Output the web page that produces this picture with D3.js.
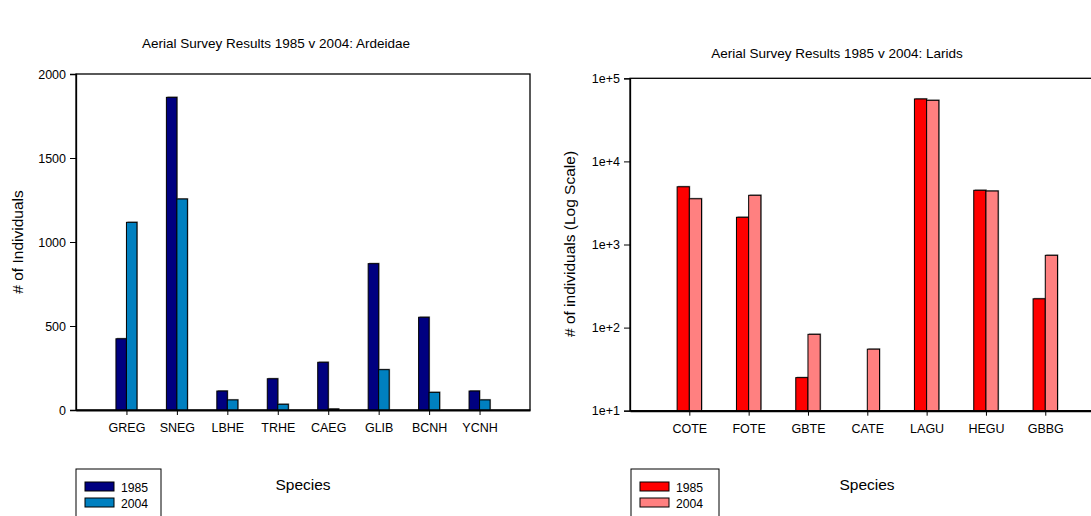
<!DOCTYPE html>
<html lang="en">
<head>
<meta charset="utf-8">
<title>Aerial Survey Results 1985 v 2004</title>
<script src="https://cdn.jsdelivr.net/npm/d3@7"></script>
<style>
  body { margin: 0; background: #fff; }
  svg { display: block; font-family: "Liberation Sans", Arial, sans-serif; }
</style>
</head>
<body>
<div id="chart"></div>
<script>

// Ardeidae data
var herons = ["GREG", "SNEG", "LBHE", "TRHE", "CAEG", "GLIB", "BCNH", "YCNH"];
var herons1985 = [424, 1861, 113, 186, 284, 871, 552, 113];
var herons2004 = [1117, 1256, 60, 34, 6, 240, 105, 60];
var heronTicks = [0, 500, 1000, 1500, 2000];

// Larid data (log scale), 0 = not present
var larids = ["COTE", "FOTE", "GBTE", "CATE", "LAGU", "HEGU", "GBBG"];
var larids1985 = [4950, 2125, 25, 0, 56400, 4490, 222];
var larids2004 = [3550, 3908, 83, 55, 54300, 4400, 741];
var laridTicks = [10, 100, 1000, 10000, 100000];

var years = ["1985", "2004"];

var W = 1091, H = 516;
var FONT = "Liberation Sans, Arial, sans-serif";

var svg = d3.select("#chart").append("svg")
    .attr("width", W)
    .attr("height", H)
    .style("overflow", "hidden");

function drawPanel(opt) {
  var g = svg.append("g");
  var x = d3.scaleLinear().domain([0, opt.cats.length + 1]).range([opt.left, opt.right]);
  var y = opt.y;
  var base = y.range()[0];

  // frame
  g.append("rect")
    .attr("x", opt.left).attr("y", y.range()[1])
    .attr("width", opt.right - opt.left).attr("height", base - y.range()[1])
    .attr("fill", "none").attr("stroke", "#000").attr("stroke-width", 1.3);

  var bars = [];
  opt.cats.forEach(function(c, i) {
    bars.push({cat: c, i: i, s: 0, v: opt.s1[i]});
    bars.push({cat: c, i: i, s: 1, v: opt.s2[i]});
  });
  bars = bars.filter(function(d) { return d.v > 0; });

  // faint shadow
  g.selectAll("rect.shadow").data(bars).enter().append("rect")
    .attr("class", "shadow")
    .attr("x", function(d) { return x(d.i + 1) + (d.s - 1) * opt.bw + 1; })
    .attr("y", function(d) { return y(d.v) - 1; })
    .attr("width", opt.bw)
    .attr("height", function(d) { return base - y(d.v); })
    .attr("fill", "#999");

  g.selectAll("rect.bar").data(bars).enter().append("rect")
    .attr("class", "bar")
    .attr("x", function(d) { return x(d.i + 1) + (d.s - 1) * opt.bw; })
    .attr("y", function(d) { return y(d.v); })
    .attr("width", opt.bw)
    .attr("height", function(d) { return base - y(d.v); })
    .attr("fill", function(d) { return opt.colors[d.s]; })
    .attr("stroke", "#000").attr("stroke-width", 1);

  // y axis
  var ya = d3.axisLeft(y).tickValues(opt.ticks).tickSize(6).tickPadding(4).tickFormat(opt.fmt);
  var yg = g.append("g").attr("transform", "translate(" + opt.left + ",0)").call(ya);
  yg.select(".domain").attr("stroke-width", 1.3);
  yg.selectAll("text").attr("font-size", 12.5).attr("fill", "#000").attr("font-family", FONT);

  // x axis
  var xa = d3.axisBottom(x).tickValues(d3.range(1, opt.cats.length + 1))
    .tickFormat(function(d) { return opt.cats[d - 1]; }).tickSize(5).tickSizeOuter(0).tickPadding(8);
  var xg = g.append("g").attr("transform", "translate(0," + base + ")").call(xa);
  xg.select(".domain").attr("stroke-width", 2);
  xg.selectAll("text").attr("font-size", 12.5).attr("fill", "#000").attr("font-family", FONT);

  // titles
  g.append("text").attr("x", opt.titleX).attr("y", opt.titleY)
    .attr("text-anchor", "middle").attr("font-size", 13.5).text(opt.title);
  g.append("text").attr("x", opt.xlabX).attr("y", 490)
    .attr("text-anchor", "middle").attr("font-size", 15.5).text("Species");
  g.append("text")
    .attr("transform", "translate(" + opt.ylabX + "," + opt.ylabY + ") rotate(-90)")
    .attr("text-anchor", "middle").attr("font-size", 15.5).text(opt.ylab);

  // legend
  var lg = g.append("g").attr("transform", "translate(" + opt.legX + ",469)");
  lg.append("rect").attr("x", 0).attr("y", 0).attr("width", opt.legW).attr("height", 60)
    .attr("fill", "#fff").attr("stroke", "#000").attr("stroke-width", 1);
  years.forEach(function(yr, k) {
    lg.append("rect").attr("x", 9).attr("y", 13 + k * 16).attr("width", 29).attr("height", 9)
      .attr("fill", opt.colors[k]).attr("stroke", "#000");
    lg.append("text").attr("x", 45).attr("y", 22.5 + k * 16)
      .attr("font-size", 12.2).text(yr);
  });
}

drawPanel({
  cats: herons, s1: herons1985, s2: herons2004,
  left: 76, right: 530, bw: 10.5,
  y: d3.scaleLinear().domain([0, 2000]).range([410, 74]),
  ticks: heronTicks, fmt: d3.format("d"),
  colors: ["#000080", "#0080C0"],
  title: "Aerial Survey Results 1985 v 2004: Ardeidae", titleX: 276, titleY: 48,
  xlabX: 303, ylab: "# of Individuals", ylabX: 23, ylabY: 242,
  legX: 76, legW: 85
});

drawPanel({
  cats: larids, s1: larids1985, s2: larids2004,
  left: 630, right: 1104.6, bw: 12.2,
  y: d3.scaleLog().domain([10, 100000]).range([410.7, 78.3]),
  ticks: laridTicks, fmt: function(d) { return "1e+" + Math.round(Math.log10(d)); },
  colors: ["#FF0000", "#FF8080"],
  title: "Aerial Survey Results 1985 v 2004: Larids", titleX: 837, titleY: 58,
  xlabX: 867, ylab: "# of individuals (Log Scale)", ylabX: 575, ylabY: 244,
  legX: 631, legW: 88
});

</script>
</body>
</html>
